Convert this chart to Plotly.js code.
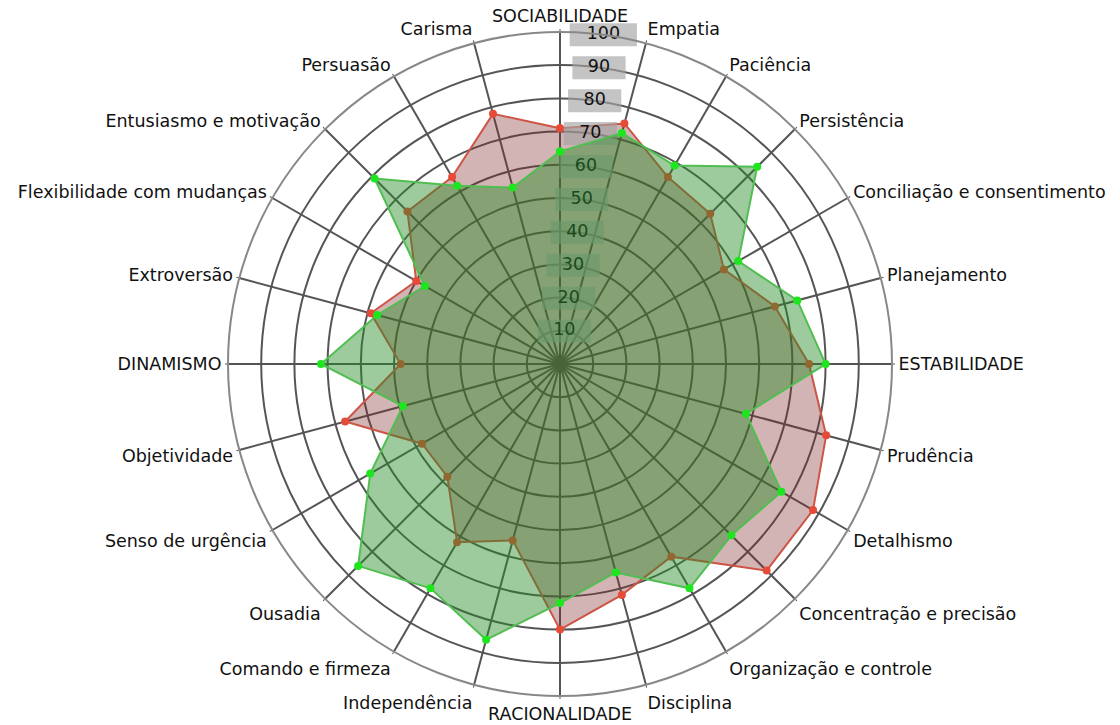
<!DOCTYPE html>
<html>
<head>
<meta charset="utf-8">
<script src="https://cdn.plot.ly/plotly-3.0.1.min.js"></script>
<style>
  html, body { margin: 0; padding: 0; background: #fff; }
  #chart { width: 1120px; height: 725px; }
</style>
</head>
<body>
<div id="chart"></div>
<script>
// categorias, em sentido horário a partir do topo
const categories = [
  "SOCIABILIDADE", "Empatia", "Paciência", "Persistência",
  "Conciliação e consentimento", "Planejamento", "ESTABILIDADE", "Prudência",
  "Detalhismo", "Concentração e precisão", "Organização e controle", "Disciplina",
  "RACIONALIDADE", "Independência", "Comando e firmeza", "Ousadia",
  "Senso de urgência", "Objetividade", "DINAMISMO", "Extroversão",
  "Flexibilidade com mudanças", "Entusiasmo e motivação", "Persuasão", "Carisma"
];

const redValues = [71, 75, 65, 64, 57, 67, 75, 83, 88, 88, 67, 72,
                   80, 55, 62, 48, 48, 67, 48, 59, 50, 65, 65, 78];
const greenValues = [64, 72, 69, 84, 62, 74, 80, 58, 77, 73, 78, 65,
                     72, 86, 78, 86, 66, 49, 72, 57, 47, 79, 62, 55];

const radialTicks = [10, 20, 30, 40, 50, 60, 70, 80, 90, 100];

const step = 360 / categories.length;
const angles = categories.map((c, i) => i * step);

// fecha o polígono
const closeLoop = (arr) => arr.concat([arr[0]]);

const font = "DejaVu Sans, Verdana, sans-serif";

// rótulos do eixo radial (entre as duas áreas)
const tickTrace = {
  type: "scatterpolar",
  mode: "markers+text",
  r: radialTicks,
  theta: radialTicks.map(() => step / 2),
  text: radialTicks.map(String),
  textposition: "middle center",
  textfont: { family: font, size: 17.5, color: "#111" },
  marker: {
    symbol: "line-ew",
    size: radialTicks.map((t) => (t >= 100 ? 48 : 38)),
    line: { width: 23, color: "rgba(165,165,165,0.92)" },
  },
  cliponaxis: false,
  hoverinfo: "skip",
  showlegend: false,
};

const redTrace = {
  type: "scatterpolar",
  mode: "lines+markers",
  r: closeLoop(redValues),
  theta: closeLoop(angles),
  fill: "toself",
  fillcolor: "rgba(128,40,40,0.35)",
  line: { color: "rgb(205,85,70)", width: 2 },
  marker: { color: "rgb(230,75,55)", size: 8 },
  showlegend: false,
};

const greenTrace = {
  type: "scatterpolar",
  mode: "lines+markers",
  r: closeLoop(greenValues),
  theta: closeLoop(angles),
  fill: "toself",
  fillcolor: "rgba(40,140,40,0.45)",
  line: { color: "rgb(80,190,80)", width: 2 },
  marker: { color: "rgb(30,230,30)", size: 8 },
  showlegend: false,
};

const layout = {
  width: 1120,
  height: 725,
  margin: { l: 228, r: 228, t: 32, b: 29 },
  paper_bgcolor: "#fff",
  showlegend: false,
  font: { family: font, size: 17.5, color: "#111" },
  polar: {
    bgcolor: "#fff",
    radialaxis: {
      range: [0, 100],
      tickmode: "array",
      tickvals: radialTicks,
      showticklabels: false,
      ticks: "",
      showline: false,
      gridcolor: "#555",
      gridwidth: 1.5,
    },
    angularaxis: {
      type: "linear",
      thetaunit: "degrees",
      direction: "clockwise",
      rotation: 90,
      tickmode: "array",
      tickvals: angles,
      ticktext: categories,
      tickfont: { family: font, size: 17.5, color: "#111" },
      ticks: "outside",
      ticklen: 2,
      tickcolor: "#555",
      gridcolor: "#555",
      gridwidth: 1.5,
      linecolor: "#888",
      linewidth: 2,
    },
  },
};

Plotly.newPlot("chart", [redTrace, tickTrace, greenTrace], layout, { displayModeBar: false });
</script>
</body>
</html>
